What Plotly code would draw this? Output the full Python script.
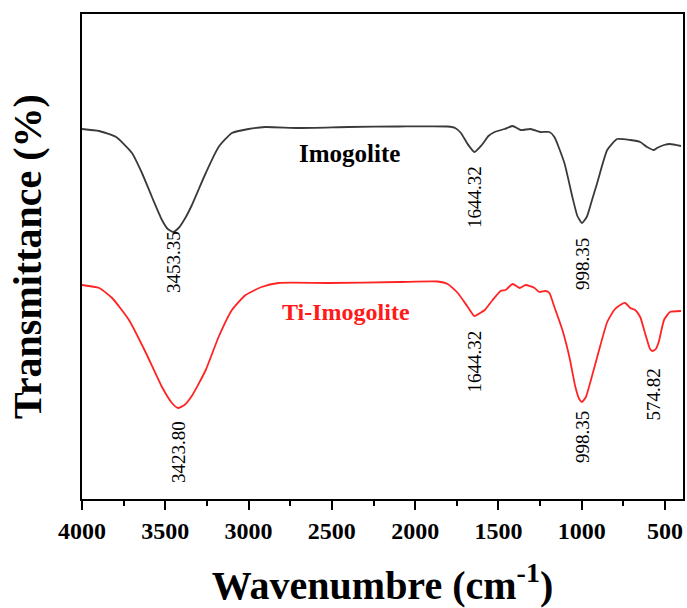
import plotly.graph_objects as go

# FTIR spectra (arbitrary transmittance units, offset for clarity)
wn_imo = [4000, 3897, 3795, 3700, 3640, 3580, 3520, 3485, 3453.35, 3420, 3380, 3340, 3257, 3180,
          3100, 3000, 2900, 2700, 2400, 2100, 1805, 1760, 1725, 1685, 1644.32, 1600, 1560, 1523,
          1463, 1415, 1367, 1307, 1248, 1194, 1164, 1104, 1056, 1026, 998.35, 970, 940, 907, 847,
          787, 709, 649, 608, 566, 548, 506, 470, 404]
t_imo = [74.0, 73.6, 72.4, 69.2, 65.2, 60.4, 55.8, 54.0, 53.4, 54.2, 56.2, 58.8, 65.2, 70.4,
         73.2, 74.0, 74.4, 74.2, 74.4, 74.5, 74.5, 74.2, 73.2, 71.0, 69.4, 70.8, 72.6, 73.4,
         74.0, 74.6, 73.8, 74.0, 73.4, 73.4, 72.4, 67.2, 60.4, 56.6, 55.2, 56.4, 59.6, 63.2,
         69.8, 72.0, 71.8, 71.4, 70.4, 69.8, 70.2, 70.8, 71.0, 70.6]

wn_ti = [4000, 3897, 3819, 3718, 3616, 3520, 3460, 3423.80, 3385, 3341, 3257, 3180, 3100,
         3018, 2922, 2821, 2522, 2100, 1864, 1805, 1744, 1684, 1644.32, 1610, 1582, 1535, 1487,
         1457, 1415, 1373, 1337, 1283, 1254, 1218, 1194, 1164, 1116, 1074, 1038, 1015,
         998.35, 975, 948, 907, 847, 805, 769, 739, 709, 679, 649, 620, 590, 574.82, 555,
         536, 506, 470, 404]
t_ti = [42.8, 42.2, 40.2, 35.8, 29.2, 22.4, 19.2, 18.2, 18.8, 20.6, 25.8, 32.4, 37.8,
        40.8, 42.4, 43.2, 43.2, 43.4, 43.5, 43.0, 41.2, 38.4, 36.6, 37.2, 37.8, 39.8, 41.6,
        41.8, 43.0, 42.2, 42.8, 42.2, 41.4, 41.6, 41.2, 38.4, 33.8, 28.4, 22.4, 20.0,
        19.4, 20.4, 23.4, 28.4, 35.4, 37.8, 38.8, 39.2, 38.2, 37.8, 36.4, 33.2, 30.0, 29.6, 30.0,
        31.6, 35.8, 37.4, 37.6]

# peak annotations: wavenumber and label height for each series
peaks_imo = [3453.35, 1644.32, 998.35]
peak_lbl_y_imo = [47.4, 60.5, 47.0]
peaks_ti = [3423.80, 1644.32, 998.35, 574.82]
peak_lbl_y_ti = [9.4, 27.6, 12.4, 20.8]

SERIF = "Liberation Serif"

fig = go.Figure()
fig.add_trace(go.Scatter(x=wn_imo, y=t_imo, mode="lines", name="Imogolite",
                         line=dict(color="#3a3a3a", width=1.8, shape="spline", smoothing=0.5)))
fig.add_trace(go.Scatter(x=wn_ti, y=t_ti, mode="lines", name="Ti-Imogolite",
                         line=dict(color="#ff2424", width=1.8, shape="spline", smoothing=0.5)))

annotations = []
for x, y in zip(peaks_imo + peaks_ti, peak_lbl_y_imo + peak_lbl_y_ti):
    annotations.append(dict(x=x, y=y, text=f"{x:.2f}", showarrow=False, textangle=-90,
                            xanchor="center", yanchor="middle",
                            font=dict(family=SERIF, size=19, color="black")))
annotations.append(dict(x=2396, y=69.2, text="<b>Imogolite</b>", showarrow=False,
                        font=dict(family=SERIF, size=25, color="black")))
annotations.append(dict(x=2414, y=37.4, text="<b>Ti-Imogolite</b>", showarrow=False,
                        font=dict(family=SERIF, size=24, color="#ff1a1a")))

fig.update_layout(
    width=687, height=608,
    margin=dict(l=82, r=2, t=14, b=109),
    paper_bgcolor="white", plot_bgcolor="white",
    showlegend=False,
    annotations=annotations,
    font=dict(family=SERIF, color="black"),
)
fig.update_xaxes(
    range=[4000, 392], tickmode="array",
    tickvals=[4000, 3500, 3000, 2500, 2000, 1500, 1000, 500],
    ticks="outside", ticklen=9, tickwidth=2, tickcolor="black",
    minor=dict(dtick=250, tick0=0, ticks="outside", ticklen=5, tickwidth=2, tickcolor="black"),
    showline=True, linewidth=2, linecolor="black", mirror=True,
    showgrid=False, zeroline=False,
    tickfont=dict(family=SERIF, size=24, color="black", weight="bold"),
    title=dict(text="<b>Wavenumbre (cm<sup>-1</sup>)</b>", standoff=29,
               font=dict(family=SERIF, size=40, color="black")),
)
fig.update_yaxes(
    range=[0, 97], showticklabels=False, ticks="",
    showline=True, linewidth=2, linecolor="black", mirror=True,
    showgrid=False, zeroline=False,
    title=dict(text="<b>Transmittance (%)</b>", standoff=26,
               font=dict(family=SERIF, size=40, color="black")),
)

fig.write_html("out.html")
